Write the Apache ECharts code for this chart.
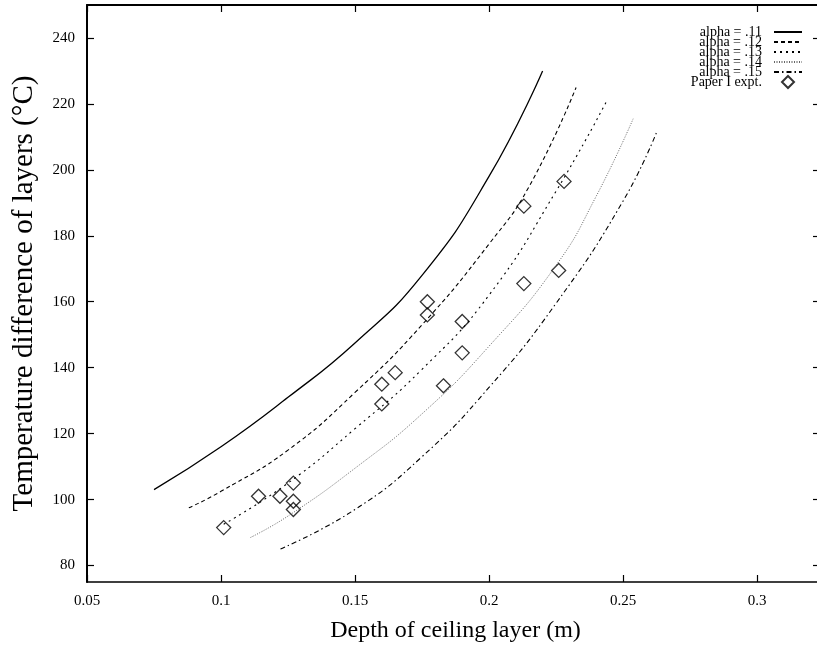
<!DOCTYPE html>
<html>
<head>
<meta charset="utf-8">
<script src="https://cdn.jsdelivr.net/npm/echarts@6/dist/echarts.min.js"></script>
<style>
  html, body { margin: 0; padding: 0; background: #fff; }
  #chart { width: 817px; height: 654px; }
</style>
</head>
<body>
<div id="chart"></div>
<script>
// Model curves: [depth (m), temperature difference (°C)]
const alpha11 = [[0.075,103],[0.1,116],[0.125,131],[0.15,147.5],[0.175,168],[0.2,198],[0.22,230]];
const alpha12 = [[0.088,97.5],[0.1,102.5],[0.125,115],[0.15,132.5],[0.175,153],[0.2,177.5],[0.215,195],[0.2325,225]];
const alpha13 = [[0.101,92.5],[0.125,105],[0.15,121.5],[0.175,139.5],[0.2,162],[0.225,193.5],[0.244,221]];
const alpha14 = [[0.111,88.5],[0.125,95],[0.15,109.5],[0.175,126],[0.2,146.5],[0.225,171],[0.24,192],[0.2538,215.5]];
const alpha15 = [[0.1222,85],[0.15,97],[0.175,113],[0.2,134],[0.225,159.5],[0.25,190.5],[0.2626,211.5]];

// Experimental measurements
const paperExpt = [[0.101,91.5],[0.114,101],[0.122,101],[0.127,105],[0.127,99.5],[0.127,97],
  [0.16,135],[0.16,129],[0.165,138.5],[0.177,160],[0.177,156],[0.19,154],[0.19,144.5],
  [0.183,134.5],[0.213,189],[0.213,165.5],[0.226,169.5],[0.228,196.5]];

const seriesNames = ['alpha = .11','alpha = .12','alpha = .13','alpha = .14','alpha = .15','Paper I expt.'];
const xTicks = [0.05,0.1,0.15,0.2,0.25,0.3];
const yTicks = [80,100,120,140,160,180,200,220,240];

const FONT = 'Liberation Serif';
const chart = echarts.init(document.getElementById('chart'));

function curve(name, data, type, color, width) {
  return {
    name: name, type: 'line', data: data, smooth: 0.5,
    symbol: 'none', silent: true,
    lineStyle: { color: color, width: width, type: type },
    // transparent so the legend shows only the line sample
    itemStyle: { color: 'rgba(0,0,0,0)' }
  };
}

const tickStyle = { color: '#000', width: 1.2 };

chart.setOption({
  animation: false,
  backgroundColor: '#fff',
  grid: { left: 87, width: 737, top: 5, bottom: 72, outerBoundsMode: 'none', containLabel: false },
  legend: {
    orient: 'vertical', right: 9, top: 20, align: 'right',
    itemWidth: 28, itemHeight: 12, itemGap: -4,
    data: seriesNames,
    textStyle: { fontFamily: FONT, fontSize: 14, color: '#000', padding: [0, 7, 0, 0] }
  },
  xAxis: [{
    type: 'value', min: 0.05, max: 0.325, position: 'bottom',
    axisLine: { show: true, lineStyle: { color: '#000', width: 1.5 } },
    axisTick: { inside: true, length: 7, customValues: xTicks, lineStyle: tickStyle },
    axisLabel: { customValues: xTicks, margin: 12, fontFamily: FONT, fontSize: 15, color: '#000' },
    splitLine: { show: false },
    name: 'Depth of ceiling layer (m)', nameLocation: 'middle', nameGap: 37,
    nameTextStyle: { fontFamily: FONT, fontSize: 24, color: '#000' }
  }, {
    type: 'value', min: 0.05, max: 0.325, position: 'top',
    axisLine: { show: true, lineStyle: { color: '#000', width: 2 } },
    axisTick: { inside: true, length: 7, customValues: xTicks, lineStyle: tickStyle },
    axisLabel: { show: false }, splitLine: { show: false }
  }],
  yAxis: [{
    type: 'value', min: 75, max: 250, position: 'left',
    axisLine: { show: true, lineStyle: { color: '#000', width: 2 } },
    axisTick: { inside: true, length: 7, customValues: yTicks, lineStyle: tickStyle },
    axisLabel: { customValues: yTicks, margin: 12, fontFamily: FONT, fontSize: 15, color: '#000' },
    splitLine: { show: false },
    name: 'Temperature difference of layers (°C)', nameLocation: 'middle', nameGap: 48,
    nameTextStyle: { fontFamily: FONT, fontSize: 29, color: '#000' }
  }, {
    type: 'value', min: 75, max: 250, position: 'right',
    axisLine: { show: true, lineStyle: { color: '#000', width: 1.5 } },
    axisTick: { inside: true, length: 11, customValues: yTicks, lineStyle: tickStyle },
    axisLabel: { show: false }, splitLine: { show: false }
  }],
  series: [
    curve(seriesNames[0], alpha11, 'solid', '#000', 1.3),
    curve(seriesNames[1], alpha12, [4, 3], '#000', 1.1),
    curve(seriesNames[2], alpha13, [2, 4], '#000', 1.1),
    curve(seriesNames[3], alpha14, [1, 1.5], '#666', 1),
    curve(seriesNames[4], alpha15, [5, 3, 1.5, 3], '#000', 1.1),
    {
      name: seriesNames[5], type: 'scatter', data: paperExpt,
      symbol: 'path://M0,-1L1,0L0,1L-1,0Z', symbolSize: 14, symbolKeepAspect: true,
      itemStyle: { color: 'rgba(255,255,255,0)', borderColor: '#000', borderWidth: 1.3 }
    }
  ]
});
</script>
</body>
</html>
